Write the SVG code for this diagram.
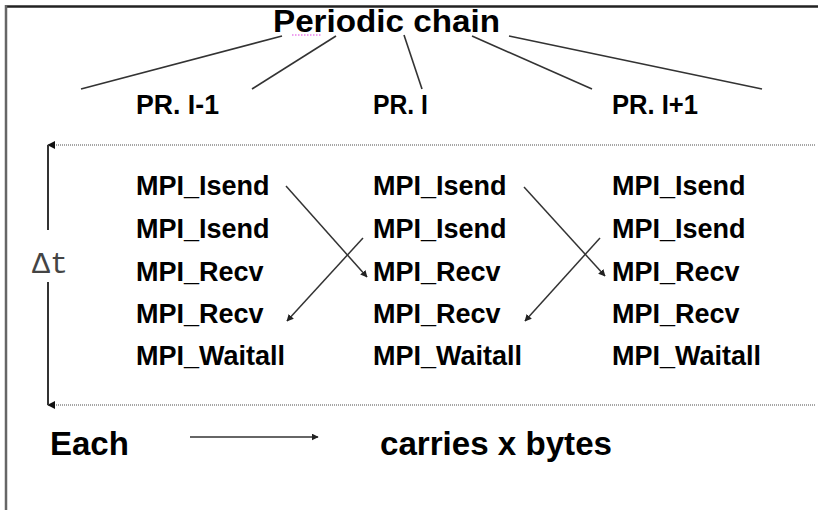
<svg xmlns="http://www.w3.org/2000/svg" width="818" height="510" viewBox="0 0 818 510">
<style>
.t{font-family:"Liberation Sans",Arial,sans-serif;font-weight:bold;fill:#000}
.m{font-size:27px}
.ln{stroke:#333;stroke-width:1.6;fill:none}
.ar{stroke:#333;stroke-width:1.5;fill:none;marker-end:url(#ah)}
.dot{stroke:#888;stroke-width:1.5;stroke-dasharray:1 1;fill:none;marker-start:url(#al)}
</style>
<defs>
<marker id="ah" viewBox="0 0 10 10" refX="9" refY="5" markerWidth="7" markerHeight="7" markerUnits="userSpaceOnUse" orient="auto"><path d="M0,0 L10,5 L0,10 z" fill="#222"/></marker>
<marker id="al" viewBox="0 0 10 10" refX="1" refY="5" markerWidth="8" markerHeight="8" markerUnits="userSpaceOnUse" orient="auto"><path d="M10,0 L0,5 L10,10 z" fill="#111"/></marker>
</defs>
<rect width="818" height="510" fill="#fff"/>
<g id="frame">
<line x1="5" y1="6.5" x2="818" y2="6.5" stroke="#222" stroke-width="2.5"/>
<line x1="6" y1="5" x2="6" y2="510" stroke="#666" stroke-width="2.5"/>
</g>
<g id="title">
<text class="t" x="273" y="32" font-size="32" textLength="227" lengthAdjust="spacingAndGlyphs">Periodic chain</text>
<line x1="292" y1="35" x2="322" y2="35" stroke="#e040e0" stroke-width="1.2" stroke-dasharray="1.5 1.5"/>
</g>
<g id="pr-labels">
<text class="t" x="136" y="114" font-size="27" textLength="83" lengthAdjust="spacingAndGlyphs">PR. I-1</text>
<text class="t" x="373" y="114" font-size="27" textLength="55" lengthAdjust="spacingAndGlyphs">PR. I</text>
<text class="t" x="612" y="114" font-size="27" textLength="86" lengthAdjust="spacingAndGlyphs">PR. I+1</text>
</g>
<g id="title-lines">
<line class="ln" x1="81" y1="89" x2="282" y2="36"/>
<line class="ln" x1="252" y1="89" x2="336" y2="36"/>
<line class="ln" x1="422" y1="89" x2="404" y2="35"/>
<line class="ln" x1="592" y1="89" x2="472" y2="36"/>
<line class="ln" x1="762" y1="89" x2="509" y2="36"/>
</g>
<g id="col1" class="t m">
<text x="136" y="195">MPI_Isend</text>
<text x="136" y="238">MPI_Isend</text>
<text x="136" y="281">MPI_Recv</text>
<text x="136" y="323">MPI_Recv</text>
<text x="136" y="365">MPI_Waitall</text>
</g>
<g id="col2" class="t m">
<text x="373" y="195">MPI_Isend</text>
<text x="373" y="238">MPI_Isend</text>
<text x="373" y="281">MPI_Recv</text>
<text x="373" y="323">MPI_Recv</text>
<text x="373" y="365">MPI_Waitall</text>
</g>
<g id="col3" class="t m">
<text x="612" y="195">MPI_Isend</text>
<text x="612" y="238">MPI_Isend</text>
<text x="612" y="281">MPI_Recv</text>
<text x="612" y="323">MPI_Recv</text>
<text x="612" y="365">MPI_Waitall</text>
</g>
<g id="period">
<line class="dot" x1="48" y1="145" x2="815" y2="145"/>
<line class="dot" x1="48" y1="405" x2="815" y2="405"/>
<line x1="48" y1="145" x2="48" y2="230" stroke="#333" stroke-width="2"/>
<line x1="48" y1="282" x2="48" y2="405" stroke="#333" stroke-width="2"/>
<text x="32" y="273" font-family="'Liberation Mono','Courier New',monospace" font-size="30" fill="#444">Δt</text>
</g>
<g id="connectors">
<line class="ar" x1="286" y1="186" x2="367" y2="277"/>
<line class="ar" x1="363" y1="238" x2="287" y2="321"/>
<line class="ar" x1="524" y1="187" x2="605" y2="276"/>
<line class="ar" x1="600" y1="238" x2="525" y2="321"/>
</g>
<g id="legend">
<text class="t" x="50" y="455" font-size="33">Each</text>
<line class="ar" x1="190" y1="437" x2="318" y2="437"/>
<text class="t" x="380" y="455" font-size="33" textLength="232" lengthAdjust="spacingAndGlyphs">carries x bytes</text>
</g>
</svg>
